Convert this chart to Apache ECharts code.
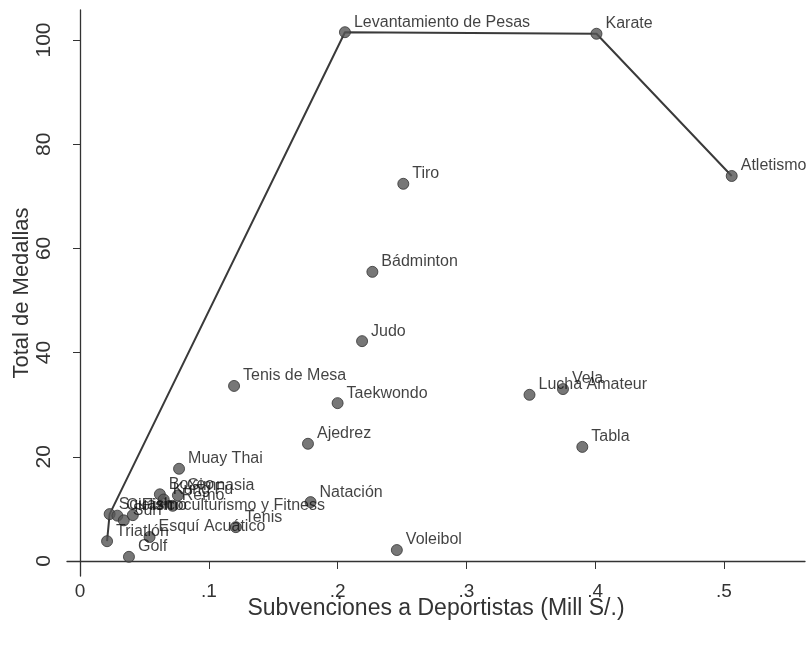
<!DOCTYPE html>
<html><head><meta charset="utf-8">
<script src="https://cdn.jsdelivr.net/npm/echarts@6/dist/echarts.min.js"></script>
<style>html,body{margin:0;padding:0;background:#fff}#c{width:807px;height:645px}</style>
</head><body><div id="c"></div>
<script>
const sports = ["Levantamiento de Pesas","Karate","Atletismo","Tiro","Bádminton","Judo","Tenis de Mesa","Taekwondo","Lucha Amateur","Vela","Tabla","Ajedrez","Muay Thai","Natación","Voleibol","Golf","Triatlón","Esquí Acuático","Tenis","Squash","Ciclismo","Surf","Fisicoculturismo y Fitness","Boxeo","Gimnasia","Kung Fu","Remo"];
const subsidies = [0.2057,0.401,0.506,0.251,0.227,0.219,0.1196,0.200,0.349,0.375,0.390,0.177,0.0769,0.179,0.246,0.038,0.021,0.054,0.121,0.023,0.029,0.034,0.041,0.062,0.076,0.065,0.072];
const medals = [101.5,101.2,73.9,72.4,55.5,42.2,33.6,30.3,31.9,33.0,21.9,22.5,17.7,11.3,2.1,0.8,3.8,4.6,6.5,9.0,8.7,7.8,8.8,12.8,12.6,11.8,10.6];
const frontier = ["Triatlón","Squash","Levantamiento de Pesas","Karate","Atletismo"];
const xTicks = [0,0.1,0.2,0.3,0.4,0.5];
const xTickLabels = ["0",".1",".2",".3",".4",".5"];
const yTicks = [0,20,40,60,80,100];

const pts = sports.map((s,i)=>({name:s,value:[subsidies[i],medals[i]]}));
const lineData = frontier.map(n=>{const i=sports.indexOf(n);return [subsidies[i],medals[i]];});
const chart = echarts.init(document.getElementById('c'));
const font = '"Liberation Sans", Arial, sans-serif';
const narrow = '"Liberation Sans Narrow", "Liberation Sans", Arial, sans-serif';
chart.setOption({
  animation:false,
  backgroundColor:'#fff',
  grid:{left:67,right:2,top:10,bottom:69,containLabel:false,outerBoundsMode:'none'},
  xAxis:{type:'value',min:-0.0101,max:0.5629,
    name:'Subvenciones a Deportistas (Mill S/.)',nameLocation:'middle',nameGap:21,nameMoveOverlap:false,
    nameTextStyle:{fontFamily:narrow,fontSize:23,color:'#333'},
    axisLine:{show:true,lineStyle:{color:'#333',width:1.3}},
    axisTick:{show:true,length:8,customValues:xTicks,lineStyle:{color:'#333'}},
    axisLabel:{customValues:xTicks,formatter:v=>xTickLabels[xTicks.indexOf(Math.round(v*10)/10)]??'',fontFamily:narrow,fontSize:19,color:'#333',margin:6},
    splitLine:{show:false}},
  yAxis:{type:'value',min:-2.88,max:105.76,
    name:'Total de Medallas',nameLocation:'middle',nameGap:34,nameRotate:90,nameMoveOverlap:false,
    nameTextStyle:{fontFamily:font,fontSize:22,color:'#333'},
    axisLine:{show:true,lineStyle:{color:'#333',width:1.3}},
    axisTick:{show:true,length:7,customValues:yTicks,lineStyle:{color:'#333'}},
    axisLabel:{customValues:yTicks,rotate:90,fontFamily:font,fontSize:21,color:'#333',margin:12},
    splitLine:{show:false}},
  series:[
    {type:'line',data:lineData,symbol:'none',lineStyle:{color:'#3a3a3a',width:2},z:2,silent:true},
    {type:'scatter',data:pts,symbolSize:11,z:3,
      itemStyle:{color:'#555',borderColor:'#333',borderWidth:1},
      label:{show:true,position:'right',distance:3,formatter:p=>p.name,fontFamily:font,fontSize:16,color:'#111'},
      labelLayout:{dy:-10,hideOverlap:false}}
  ]
});
</script></body></html>
